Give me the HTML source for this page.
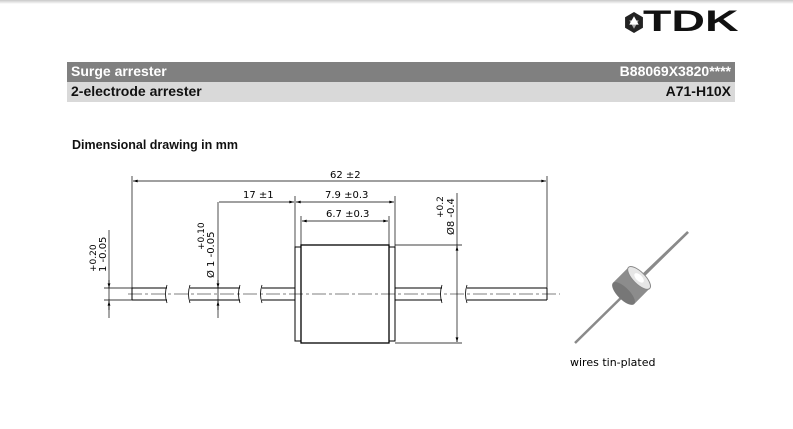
<!DOCTYPE html>
<html><head><meta charset="utf-8"><style>
body{margin:0;width:793px;height:429px;background:#fff;overflow:hidden;position:relative;font-family:"Liberation Sans",sans-serif}
.topsh{position:absolute;left:0;top:0;width:793px;height:4px;background:linear-gradient(#c8c8c8,#fff)}
.bar{position:absolute;left:67px;width:668px;font-weight:bold;font-size:14px;box-sizing:border-box;padding:0 4px;line-height:19px}
.bar span{float:right}
</style></head><body>
<div class="topsh"></div>
<div style="position:absolute;left:643px;top:5px;font-weight:bold;font-size:30px;line-height:34px;color:#111;transform:scaleX(1.55);transform-origin:0 0">TDK</div>
<svg style="position:absolute;left:625px;top:12px" width="18" height="21" viewBox="0 0 17 20"><polygon points="8.5,0 17,5 17,15 8.5,20 0,15 0,5" fill="#222"/><polygon points="8.5,4 13,12 4,12" fill="#fff"/><polygon points="8.5,16 4,8 13,8" fill="#fff" opacity=".6"/></svg>
<div class="bar" style="top:62px;height:20px;background:#808080;color:#fff">Surge arrester<span>B88069X3820****</span></div>
<div class="bar" style="top:82px;height:20px;background:#d9d9d9;color:#111">2-electrode arrester<span>A71-H10X</span></div>
<div style="position:absolute;left:72px;top:138px;font-weight:bold;font-size:12.5px;color:#111">Dimensional drawing in mm</div>
<svg style="position:absolute;left:0;top:0" width="793" height="429" font-family="DejaVu Sans, sans-serif" font-size="10">
<defs><marker id="a" viewBox="0 0 10 6" refX="10" refY="3" markerWidth="8" markerHeight="4" orient="auto-start-reverse"><path d="M0,0L10,3L0,6z" fill="#000"/></marker></defs>
<g stroke="#000" fill="none" stroke-width="1">
<path d="M132,288H167M132,300H167M132,288V300"/>
<path d="M190,288H240M190,300H240"/>
<path d="M262,288H295M262,300H295"/>
<path d="M395,288H442M395,300H442"/>
<path d="M467,288H547M467,300H547M547,288V300"/>
<path d="M167,285q-3,9 0,18M190,285q-3,9 0,18M240,285q-3,9 0,18M262,285q-3,9 0,18M442,285q-3,9 0,18M467,285q-3,9 0,18" stroke-width=".8"/>
<rect x="295" y="247" width="6" height="94"/>
<rect x="389" y="247" width="6" height="94"/>
<rect x="301" y="245" width="88" height="98" stroke-width="1.3"/>
<path d="M128,294H560" stroke-dasharray="14,3,3,3" stroke-width=".6"/>
<path d="M132,176V288M547,176V288" stroke-width=".7"/>
<path d="M133,181H546" stroke-width=".7" marker-start="url(#a)" marker-end="url(#a)"/>
<path d="M295,196V247M395,196V247M301,216V245M389,216V245" stroke-width=".7"/>
<path d="M219,202H294" stroke-width=".7" marker-end="url(#a)"/>
<path d="M296,202H394" stroke-width=".7" marker-start="url(#a)" marker-end="url(#a)"/>
<path d="M302,221H388" stroke-width=".7" marker-start="url(#a)" marker-end="url(#a)"/>
<path d="M218,202V318" stroke-width=".7"/>
<path d="M218,280V288" marker-end="url(#a)" stroke-width=".7"/>
<path d="M218,310V301" marker-end="url(#a)" stroke-width=".7"/>
<path d="M395,245H462M395,343H462" stroke-width=".7"/>
<path d="M457,193V342" stroke-width=".7"/>
<path d="M457,250V246" marker-end="url(#a)" stroke-width=".7"/>
<path d="M457,338V342" marker-end="url(#a)" stroke-width=".7"/>
<path d="M104,288H133M104,300H133" stroke-width=".7"/>
<path d="M109,230V318" stroke-width=".7"/>
<path d="M109,280V288" marker-end="url(#a)" stroke-width=".7"/>
<path d="M109,310V301" marker-end="url(#a)" stroke-width=".7"/>
</g>
<g fill="#000">
<text x="330" y="178">62 ±2</text>
<text x="243" y="198">17 ±1</text>
<text x="325" y="198">7.9 ±0.3</text>
<text x="326" y="217">6.7 ±0.3</text>
<text transform="translate(106,272) rotate(-90)" font-size="10">1 -0.05</text>
<text transform="translate(96,272) rotate(-90)" font-size="9">+0.20</text>
<text transform="translate(214,278) rotate(-90)">Ø 1 -0.05</text>
<text transform="translate(204,250) rotate(-90)" font-size="9">+0.10</text>
<text transform="translate(454,235) rotate(-90)">Ø8 -0.4</text>
<text transform="translate(443,218) rotate(-90)" font-size="9">+0.2</text>
<text x="570" y="366" font-size="11">wires tin-plated</text>
</g>
<line x1="575" y1="343" x2="688" y2="232" stroke="#8a8a8a" stroke-width="2.5"/>
<g transform="translate(632,285) rotate(-45)">
<rect x="-12" y="-15" width="22" height="30" fill="#8c8c8c"/>
<ellipse cx="10" cy="0" rx="6" ry="15" fill="#e6e6e6" stroke="#888"/>
<ellipse cx="-12" cy="0" rx="6" ry="15" fill="#777"/>
<ellipse cx="10" cy="0" rx="3" ry="6" fill="#fff"/>
</g>
<line x1="644" y1="274" x2="688" y2="232" stroke="#8a8a8a" stroke-width="2.5"/>
</svg>
</body></html>
